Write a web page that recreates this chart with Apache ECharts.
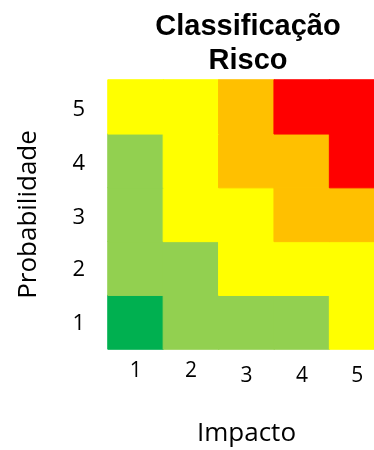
<!DOCTYPE html>
<html>
<head>
<meta charset="utf-8">
<script src="https://cdn.jsdelivr.net/npm/echarts@6/dist/echarts.min.js"></script>
<style>
  html, body { margin: 0; padding: 0; background: #fff; }
  #chart { width: 374px; height: 450px; }
</style>
</head>
<body>
<div id="chart"></div>
<script>
// Risk matrix: impact (x) vs probability (y), each cell coloured by risk level
const impacto = ['1', '2', '3', '4', '5'];
const probabilidade = ['1', '2', '3', '4', '5'];

// Risk level names and their colours (0 = lowest)
const niveis = ['Muito baixo', 'Baixo', 'Médio', 'Alto', 'Muito alto'];
const cores = ['#00B050', '#92D050', '#FFFF00', '#FFC000', '#FF0000'];

// Risk level of each cell, one array per probability row, impact 1..5
const nivelProb1 = [0, 1, 1, 1, 2];
const nivelProb2 = [1, 1, 2, 2, 2];
const nivelProb3 = [1, 2, 2, 3, 3];
const nivelProb4 = [1, 2, 3, 3, 4];
const nivelProb5 = [2, 2, 3, 4, 4];

const linhas = [nivelProb1, nivelProb2, nivelProb3, nivelProb4, nivelProb5];
const dados = [];
linhas.forEach((linha, y) => {
  linha.forEach((nivel, x) => dados.push({
    value: [x, y, nivel],
    // a border in the cell's own colour hides the seams between neighbours
    itemStyle: { borderColor: cores[nivel], borderWidth: 1 }
  }));
});

// Digits that hang below the baseline in the axis font get nudged down
const descendentes = { '3': true, '4': true, '5': true };
const rotuloEixo = v => descendentes[v] ? '{d|' + v + '}' : '{n|' + v + '}';
const labelFont = 'Open Sans';

const chart = echarts.init(document.getElementById('chart'), null, { renderer: 'canvas' });
chart.setOption({
  backgroundColor: '#ffffff',
  animation: false,
  title: {
    text: 'Classificação\nRisco',
    left: 248,
    top: 10,
    padding: 0,
    textAlign: 'center',
    textStyle: {
      fontFamily: 'Liberation Sans',
      fontWeight: 'bold',
      fontSize: 29,
      lineHeight: 34,
      color: '#000'
    }
  },
  grid: { left: 108, top: 80, width: 277, height: 269, containLabel: false, outerBoundsMode: 'none' },
  xAxis: {
    type: 'category',
    data: impacto,
    name: 'Impacto',
    nameLocation: 'middle',
    nameGap: 72,
    nameTextStyle: { fontFamily: labelFont, fontSize: 26, color: '#000' },
    axisLine: { show: false },
    axisTick: { show: false },
    splitLine: { show: false },
    axisLabel: {
      margin: 12,
      formatter: rotuloEixo,
      rich: {
        n: { fontFamily: labelFont, fontSize: 21, color: '#000' },
        d: { fontFamily: labelFont, fontSize: 21, color: '#000', padding: [5, 0, 0, 0] }
      }
    }
  },
  yAxis: {
    type: 'category',
    data: probabilidade,
    name: 'Probabilidade',
    nameLocation: 'middle',
    nameRotate: 90,
    nameGap: 66,
    nameTextStyle: { fontFamily: labelFont, fontSize: 26, color: '#000' },
    axisLine: { show: false },
    axisTick: { show: false },
    splitLine: { show: false },
    axisLabel: {
      margin: 23,
      formatter: rotuloEixo,
      rich: {
        n: { fontFamily: labelFont, fontSize: 22, color: '#000', padding: [3, 0, 0, 0] },
        d: { fontFamily: labelFont, fontSize: 22, color: '#000', padding: [6, 0, 0, 0] }
      }
    }
  },
  visualMap: {
    type: 'piecewise',
    show: false,
    dimension: 2,
    pieces: niveis.map((nome, i) => ({ value: i, label: nome, color: cores[i] }))
  },
  series: [{
    type: 'heatmap',
    data: dados,
    emphasis: { disabled: true }
  }]
});
</script>
</body>
</html>
